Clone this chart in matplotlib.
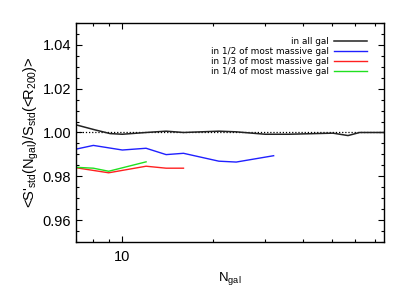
import matplotlib
matplotlib.use("Agg")
import matplotlib.pyplot as plt
from matplotlib.ticker import LogLocator, NullFormatter, MultipleLocator, FixedLocator, FixedFormatter

plt.rcParams['font.family'] = ['Liberation Sans', 'DejaVu Sans']
plt.rcParams['mathtext.default'] = 'regular'

# Werte
n_all = [7, 8.1, 9.1, 10, 12, 14, 16, 21, 24, 30, 36, 50.5, 56.7, 62, 76]
s_all = [1.0035, 1.0012, 0.9995, 0.9992, 1.0000, 1.0006, 1.0000, 1.0006,
         1.0003, 0.9992, 0.9992, 0.9997, 0.9986, 1.0000, 1.0000]

n_half = [7, 8, 10, 12, 14, 16, 21, 24, 32]
s_half = [0.9924, 0.9941, 0.9920, 0.9928, 0.9899, 0.9905, 0.9869, 0.9865, 0.9894]

n_third = [7, 9, 12, 14, 16]
s_third = [0.9839, 0.9816, 0.9846, 0.9837, 0.9837]

n_quarter = [7, 8, 9, 12]
s_quarter = [0.9841, 0.9837, 0.9823, 0.9866]

labels = ["in all gal", "in 1/2 of most massive gal",
          "in 1/3 of most massive gal", "in 1/4 of most massive gal"]
farben = ["#222222", "#2020ff", "#ff2020", "#20e020"]

fig = plt.figure(figsize=(4.07, 2.91), dpi=100)
ax = fig.add_axes([0.1867, 0.1684, 0.7556, 0.7526])

ax.axhline(1.0, color="black", linestyle=(0, (1, 1.5)), linewidth=0.9)
ax.plot(n_all, s_all, color=farben[0], linewidth=1.1, label=labels[0])
ax.plot(n_half, s_half, color=farben[1], linewidth=1.0, label=labels[1])
ax.plot(n_third, s_third, color=farben[2], linewidth=1.0, label=labels[2])
ax.plot(n_quarter, s_quarter, color=farben[3], linewidth=1.0, label=labels[3])

ax.set_xscale("log")
ax.set_xlim(7, 74.5)
ax.set_ylim(0.95, 1.05)

ax.xaxis.set_major_locator(FixedLocator([10]))
ax.xaxis.set_major_formatter(FixedFormatter(["10"]))
ax.xaxis.set_minor_locator(LogLocator(base=10, subs=range(2, 10)))
ax.xaxis.set_minor_formatter(NullFormatter())
ax.yaxis.set_major_locator(MultipleLocator(0.02))
ax.yaxis.set_minor_locator(MultipleLocator(0.005))
ax.yaxis.set_major_formatter(plt.FuncFormatter(lambda v, p: "%.2f" % v))

ax.tick_params(which="both", direction="in", top=True, right=True, labelsize=10.5)
ax.tick_params(which="major", length=4.5, width=0.8)
ax.tick_params(which="minor", length=2.5, width=0.8)
ax.tick_params(axis="x", pad=6)
for s in ax.spines.values():
    s.set_linewidth(1.0)

ax.set_xlabel(r"N$_{gal}$", fontsize=9.5, labelpad=4)
ax.set_ylabel(r"<S'$_{std}$(N$_{gal}$)/S$_{std}$(<R$_{200}$)>", fontsize=10.5, labelpad=1)

leg = ax.legend(loc="upper right", frameon=False, markerfirst=False,
                prop={"family": "DejaVu Sans", "size": 6.4},
                handlelength=3.7, handletextpad=0.6, labelspacing=0.08,
                borderaxespad=0.0, bbox_to_anchor=(0.958, 0.95))
for t in leg.get_texts():
    t.set_ha("right")

fig.savefig("out.png", dpi=100)
